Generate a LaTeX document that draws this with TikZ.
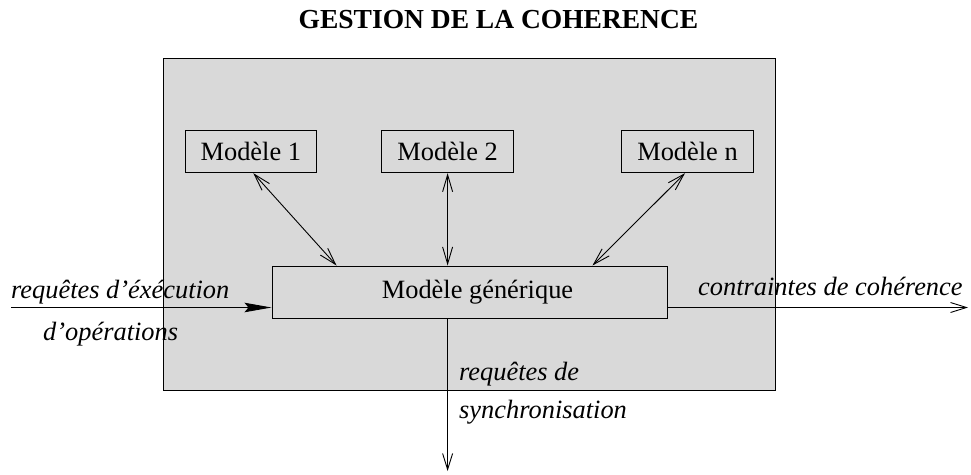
\documentclass[tikz,border=0pt]{standalone}
\usepackage{fontspec}
\setmainfont{Liberation Serif}
\usetikzlibrary{arrows.meta,calc}

\definecolor{panel}{RGB}{217,217,217}

\tikzset{
  txt/.style={font=\fontsize{26.4}{30}\selectfont},
  lab/.style={txt, font=\fontsize{26.4}{30}\selectfont\itshape, anchor=base west, inner sep=0pt},
  mbox/.style={txt, draw, line width=1pt, fill=panel, inner sep=0pt, minimum width=131.5pt, minimum height=42.5pt},
  gbox/.style={txt, draw, line width=1pt, fill=panel, inner sep=0pt, minimum width=395pt, minimum height=52pt},
  link/.style={line width=0.9pt, {Straight Barb[length=17pt,width=10pt]}-{Straight Barb[length=17pt,width=10pt]}},
  inarrow/.style={line width=0.9pt, -{Stealth[length=27pt,width=9.5pt,inset=4pt]}},
  outarrow/.style={line width=0.9pt, -{Straight Barb[length=16pt,width=10pt]}},
}

\begin{document}
\begin{tikzpicture}[x=1pt,y=-1pt]
  \useasboundingbox (0,0) rectangle (971,474);

  % title
  \node[anchor=base, inner sep=0pt, font=\fontsize{27.5}{32}\selectfont\bfseries] (title) at (498.5,28) {GESTION DE LA COHERENCE};

  % grey panel
  \node[draw, line width=1pt, fill=panel, inner sep=0pt, minimum width=612pt, minimum height=332pt] (panel) at (469,224) {};

  % model boxes
  \node[mbox] (m1) at (250.8,151.4) {Modèle 1};
  \node[mbox] (m2) at (447.6,151.4) {Modèle 2};
  \node[mbox] (mn) at (687.5,151.4) {Modèle n};

  % generic model
  \node[gbox] (gen) at (469.5,292) {\hspace*{16pt}Modèle générique};

  % links between the models
  \draw[link] ($(m1.south)+(2.5,0)$) -- ($(gen.north west)+(65,0)$);
  \draw[link] (m2.south) -- (gen.north -| m2.south);
  \draw[link] ($(mn.south)+(-2.5,0)$) -- ($(gen.north east)+(-75,0)$);

  % input, output and synchronisation arrows
  \coordinate (in) at (11,307.5);
  \coordinate (out) at (968,307.5);
  \coordinate (sync) at (447.6,471);
  \draw[inarrow] (in) -- (in -| gen.west);
  \draw[outarrow] (gen.east |- out) -- (out);
  \draw[outarrow] (gen.south -| sync) -- (sync);

  % labels
  \node[lab] (l1) at (11,298) {requêtes d’éxécution};
  \node[lab] (l2) at (43,340.7) {d’opérations};
  \node[lab] (l3) at (698,295.7) {contraintes de cohérence};
  \node[lab] (l4) at (459,380.7) {requêtes de};
  \node[lab] (l5) at (459,418) {synchronisation};
\end{tikzpicture}
\end{document}
